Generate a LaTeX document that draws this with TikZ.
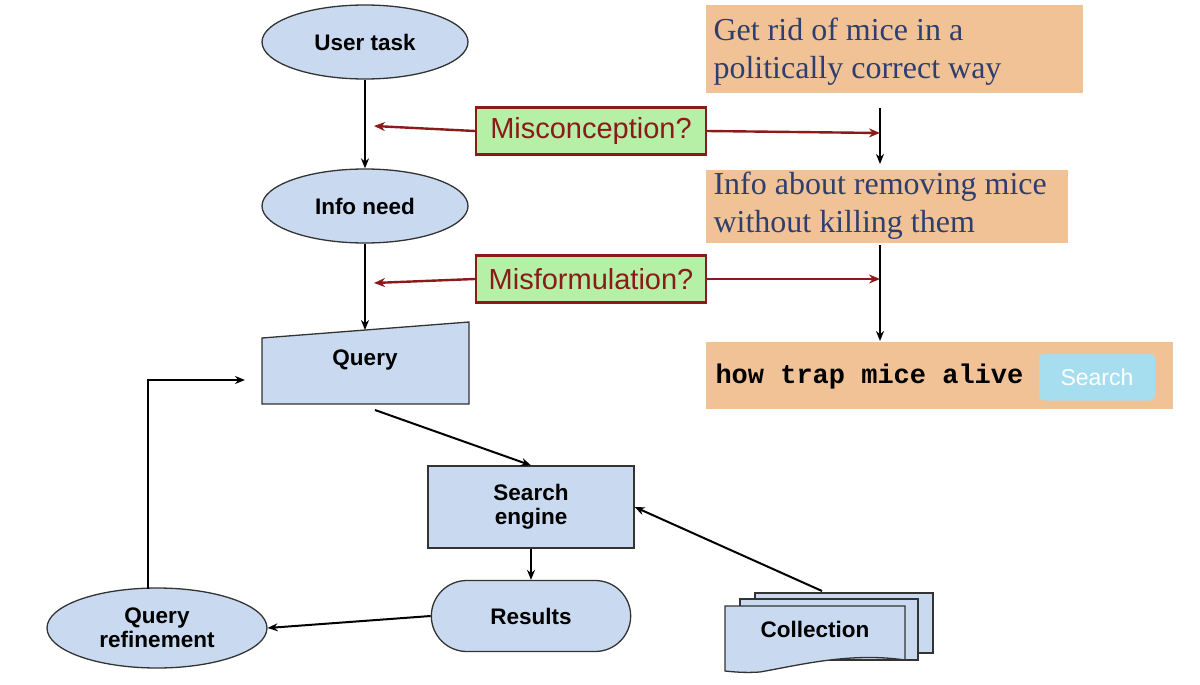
\documentclass[tikz,border=0pt]{standalone}
\usepackage{fontspec}
\setmainfont{Liberation Sans}
\newfontfamily\serifA{Liberation Serif}
\newfontfamily\monoA{Liberation Mono}
\usetikzlibrary{shapes.geometric,shapes.misc,arrows.meta}
\definecolor{nodeblue}{HTML}{C9DAF0}
\definecolor{orng}{HTML}{F2C297}
\definecolor{grn}{HTML}{B6F0A6}
\definecolor{dred}{HTML}{8B1A1A}
\definecolor{tblue}{HTML}{2E3F6E}
\definecolor{btn}{HTML}{A6DEF0}
\begin{document}
\begin{tikzpicture}[x=1pt,y=-1pt,
  blk/.style={draw=black!80,fill=nodeblue,line width=1.3pt},
  lbl/.style={font=\fontsize{22.5}{26}\selectfont\bfseries,align=center},
  arr/.style={-{Stealth[length=10pt,width=8pt]},line width=2pt},
  rarr/.style={-{Stealth[length=11pt,width=9pt]},line width=2.4pt,draw=dred},
  obox/.style={fill=orng,draw=none},
  otxt/.style={font=\serifA\fontsize{32}{38}\selectfont,text=tblue,align=left,anchor=north west},
  gbox/.style={fill=grn,draw=dred,line width=2.4pt,font=\fontsize{29}{32}\selectfont,text=dred,minimum width=230pt,minimum height=47pt}]
\useasboundingbox (0,0) rectangle (1200,685);
% left flow
\node[blk,ellipse,minimum width=206pt,minimum height=74pt] (ut) at (365,42) {};
\node[lbl] at (365,42) {User task};
\node[blk,ellipse,minimum width=206pt,minimum height=74pt] (in) at (365,206) {};
\node[lbl] at (365,206) {Info need};
\draw[blk] (262,338) -- (469,322) -- (469,404) -- (262,404) -- cycle;
\node[lbl] (q) at (365,360) {Query};
\coordinate (qtop) at (365,330);
\coordinate (qbot) at (375,410);
\coordinate (qin) at (245,380);
\node[blk,rectangle,minimum width=206pt,minimum height=82pt,lbl] (se) at (531,507) {Search\\[-2pt]engine};
\node[blk,rounded rectangle,minimum width=206pt,minimum height=71pt,lbl] (res) at (531,616) {Results};
\node[blk,ellipse,minimum width=220pt,minimum height=80pt,lbl] (qr) at (157,628) {Query\\[-2pt]refinement};
\coordinate (qrt) at (148,589);
% collection
\draw[blk] (755,593) rectangle (933,653);
\draw[blk] (740,599) rectangle (918,660);
\draw[blk] (725,606) -- (905,606) -- (905,660) .. controls (850,652) and (800,665) .. (760,672) .. controls (745,673) and (735,672) .. (725,671) -- cycle;
\node[lbl] (col) at (815,629) {Collection};
\coordinate (colt) at (822,591);
% right boxes
\fill[obox] (706,5) rectangle (1083,93);
\node[otxt] (t1) at (710,14) {Get rid of mice in a\\politically correct way};
\fill[obox] (706,170) rectangle (1068,243);
\node[otxt] (t2) at (710,168) {Info about removing mice\\without killing them};
\fill[obox] (706,342) rectangle (1173,409);
\node[font=\monoA\bfseries\fontsize{27}{30}\selectfont,anchor=west] (t3) at (712,377) {how trap mice alive};
\node[fill=btn,rounded corners=5pt,minimum width=116pt,minimum height=47pt,text=white,font=\fontsize{23}{26}\selectfont] (sb) at (1097,377) {Search};
\coordinate (r1a) at (880,108); \coordinate (r1b) at (880,164);
\coordinate (r2a) at (880,245); \coordinate (r2b) at (880,341);
% green boxes
\node[gbox] (mc) at (591,131) {Misconception?};
\node[gbox] (mf) at (591,279) {Misformulation?};
\coordinate (ml1) at (374,126); \coordinate (mr1) at (880,133);
\coordinate (ml2) at (374,283); \coordinate (mr2) at (880,279);
% arrows
\draw[arr] (ut.south) -- (in.north);
\draw[arr] (in.south) -- (qtop);
\draw[arr] (qbot) -- (se.north);
\draw[arr] (se.south) -- (res.north);
\draw[arr] (colt) -- (se.east);
\draw[arr] (res.west) -- (qr.east);
\draw[arr] (qrt) |- (qin);
\draw[arr] (r1a) -- (r1b);
\draw[arr] (r2a) -- (r2b);
\draw[rarr] (mc.west) -- (ml1);
\draw[rarr] (mc.east) -- (mr1);
\draw[rarr] (mf.west) -- (ml2);
\draw[rarr] (mf.east) -- (mr2);
\end{tikzpicture}
\end{document}
